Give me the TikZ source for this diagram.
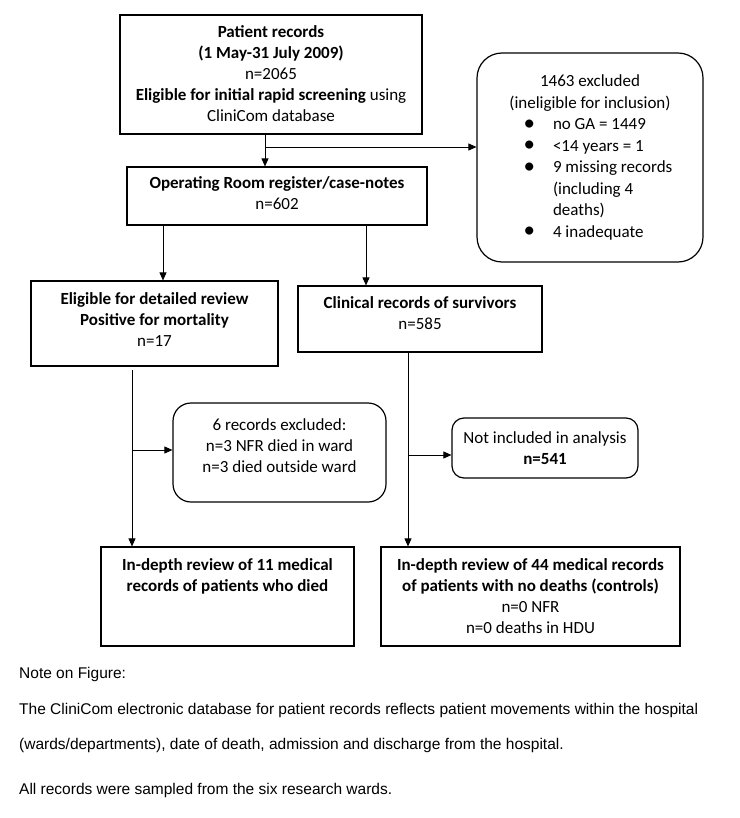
\documentclass[tikz,border=0pt]{standalone}
\usepackage{fontspec}
\setmainfont{Carlito}
\newfontfamily\notefont{Liberation Sans}
\usetikzlibrary{arrows.meta}
\newcommand{\bxt}[4]{\begin{minipage}[c][#2][t]{#1}\centering\rule{0pt}{#3}#4\end{minipage}}
\newcommand{\bigbul}{\raisebox{-0.5pt}{\scalebox{1.35}{\textbullet}}}
\tikzset{
  box/.style={draw, line width=1.2pt, inner sep=0pt, font=\fontsize{17}{21}\selectfont},
  rbox/.style={box, rounded corners=#1},
  arr/.style={-{Triangle[length=8pt,width=7pt]}, line width=0.9pt},
  ln/.style={line width=0.9pt},
  note/.style={anchor=base west, inner sep=0pt, font=\notefont\fontsize{15.5}{18}\selectfont}
}
\begin{document}
\begin{tikzpicture}[x=1pt,y=-1pt]
\fill[white] (0,0) rectangle (739,818);
\useasboundingbox (0,0) rectangle (739,818);

\node[box] (b1) at (271,74.5) {\bxt{302pt}{119pt}{22.3pt}{\textbf{Patient records}\\\textbf{(1 May-31 July 2009)}\\n=2065\\\textbf{Eligible for initial rapid screening} using\\CliniCom database}};
\node[box] (b2) at (277,196) {\bxt{300pt}{58pt}{22pt}{\textbf{Operating Room register/case-notes}\\n=602}};
\node[rbox=25pt] (ex) at (590,157.5) {\begin{minipage}[c][209pt][t]{226pt}\fontsize{17}{21.5}\selectfont\centering\rule{0pt}{33.7pt}1463 excluded\\(ineligible for inclusion)\par
\raggedright
\begin{list}{\bigbul}{\setlength\leftmargin{76pt}\setlength\labelsep{18pt}\setlength\labelwidth{40pt}\setlength\itemsep{0pt}\setlength\parsep{0pt}\setlength\topsep{0pt}\setlength\partopsep{0pt}}
\item no GA = 1449
\item <14 years = 1
\item 9 missing records\\(including 4\\deaths)
\item 4 inadequate
\end{list}
\end{minipage}};
\node[box] (b3) at (154.5,323.5) {\bxt{247pt}{85pt}{23pt}{\textbf{Eligible for detailed review}\\\textbf{Positive for mortality}\\n=17}};
\node[box] (b4) at (420,319) {\bxt{244pt}{66pt}{22.3pt}{\textbf{Clinical records of survivors}\\n=585}};
\node[rbox=18pt] (six) at (279.5,452.5) {\bxt{213pt}{99pt}{27.7pt}{6 records excluded:\\n=3 NFR died in ward\\n=3 died outside ward}};
\node[rbox=12pt] (ni) at (545,448) {\bxt{186pt}{60pt}{25.3pt}{Not included in analysis\\\textbf{n=541}}};
\node[box] (b5) at (227.5,596.5) {\bxt{253pt}{99pt}{23pt}{\textbf{In-depth review of 11 medical}\\\textbf{records of patients who died}}};
\node[box] (b6) at (530.5,596.5) {\bxt{299pt}{99pt}{23pt}{\textbf{In-depth review of 44 medical records}\\\textbf{of patients with no deaths (controls)}\\n=0 NFR\\n=0 deaths in HDU}};

% connectors
\coordinate (c1) at (265,147);
\draw[arr] (c1 |- b1.south) -- (c1 |- b2.north);
\draw[arr] (c1) -- (c1 -| ex.west);
\coordinate (c2) at (163,0);
\draw[arr] (c2 |- b2.south) -- (c2 |- b3.north);
\coordinate (c3) at (366,0);
\draw[arr] (c3 |- b2.south) -- (c3 |- b4.north);
\coordinate (c4) at (132,370);
\coordinate (c5) at (132,450);
\draw[arr] (c4) -- (c4 |- b5.north);
\draw[arr] (c5) -- (c5 -| six.west);
\coordinate (c6) at (408,455);
\draw[arr] (c6 |- b4.south) -- (c6 |- b6.north);
\draw[arr] (c6) -- (c6 -| ni.west);

% notes
\node[note] (n1) at (19,678.3) {Note on Figure:};
\node[note] (n2) at (19,714.3) {The CliniCom electronic database for patient records reflects patient movements within the hospital};
\node[note] (n3) at (19,749.3) {(wards/departments), date of death, admission and discharge from the hospital.};
\node[note] (n4) at (19,794) {All records were sampled from the six research wards.};
\end{tikzpicture}
\end{document}
